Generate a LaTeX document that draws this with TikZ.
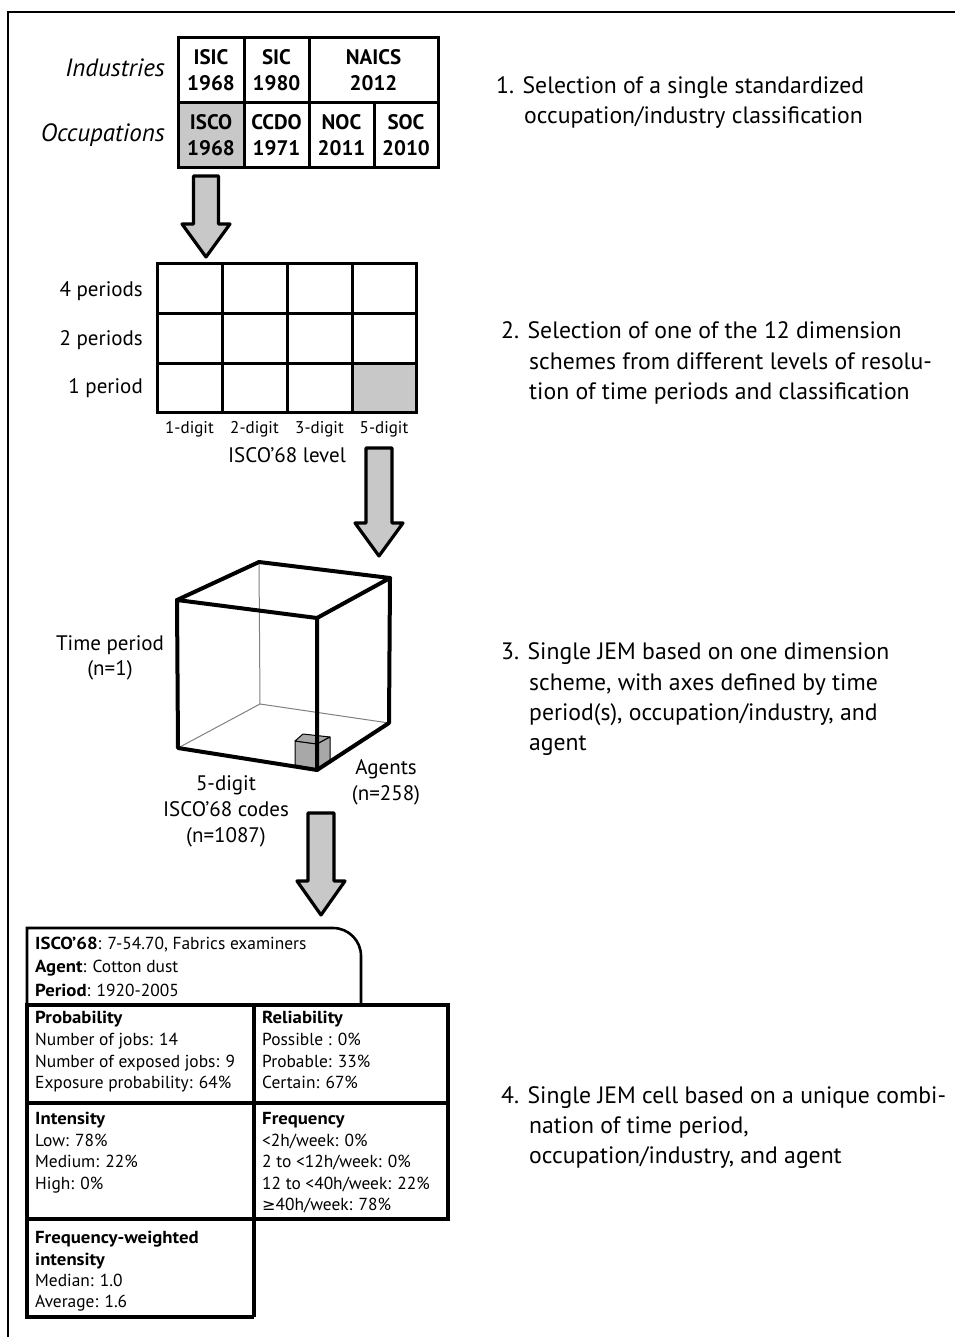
\documentclass[tikz,border=0pt]{standalone}
\usepackage{fontspec}
\setmainfont{PT Sans}
\newfontfamily\symfont{DejaVu Sans}
\newcommand\cb[1]{{\bfseries\addfontfeatures{FakeStretch=1.08}#1}}
\definecolor{lgray}{HTML}{C8C8C8}
\definecolor{mgray}{HTML}{A8A8A8}
\begin{document}
\begin{tikzpicture}[x=1pt,y=-1pt,
  frameline/.style={line width=1.8pt},
  tline/.style={line width=3pt},
  cubeline/.style={line width=4pt,line join=round,line cap=round},
  hidden/.style={line width=1pt,draw=gray},
  barrow/.style={draw=black,fill=lgray,line width=3.2pt,line join=round},
  sidelbl/.style={anchor=base east,inner sep=0,font=\fontsize{25}{29}\selectfont\itshape},
  tcell/.style={align=center,inner sep=0,font=\fontsize{21}{26}\selectfont\bfseries},
  rowlbl/.style={anchor=base east,inner sep=0,font=\fontsize{21}{25}\selectfont},
  collbl/.style={anchor=base,inner sep=0,font=\fontsize{17}{20}\selectfont},
  axlbl/.style={anchor=base,inner sep=0,font=\fontsize{21}{25}\selectfont},
  desc/.style={anchor=base west,inner sep=0,font=\fontsize{23.7}{28}\selectfont},
  cell/.style={anchor=base west,inner sep=0,font=\fontsize{17.4}{21}\selectfont}]
\useasboundingbox (0,0) rectangle (955,1337);
\draw[frameline] (8,1337) -- (8,12) -- (955,12);

% ---- classification table ----
\fill[lgray] (178,103) rectangle (244,168);
\draw[tline] (178,38) rectangle (438,168);
\draw[tline] (178,103) -- (438,103);
\draw[tline] (244,38) -- (244,168);
\draw[tline] (309,38) -- (309,168);
\draw[tline] (374,103) -- (374,168);
\node[sidelbl] (ind) at (165,77) {Industries};
\node[sidelbl] (occ) at (165,142) {Occupations};
\node[tcell] (isic) at (211,70.5) {ISIC\\1968};
\node[tcell] (sic) at (276.5,70.5) {SIC\\1980};
\node[tcell] (naics) at (373.5,70.5) {NAICS\\2012};
\node[tcell] (isco) at (211,135.5) {ISCO\\1968};
\node[tcell] (ccdo) at (276.5,135.5) {CCDO\\1971};
\node[tcell] (noc) at (341.5,135.5) {NOC\\2011};
\node[tcell] (soc) at (406,135.5) {SOC\\2010};

% ---- arrow 1 ----
\draw[barrow] (193.5,176) -- (218.5,176) -- (218.5,224) -- (230,224) -- (206,257) -- (182,224) -- (193.5,224) -- cycle;

% ---- dimension grid ----
\fill[lgray] (352,363) rectangle (416,412);
\draw[tline] (157,264) rectangle (416,412);
\draw[tline] (157,313) -- (416,313);
\draw[tline] (157,363) -- (416,363);
\draw[tline] (222,264) -- (222,412);
\draw[tline] (287,264) -- (287,412);
\draw[tline] (352,264) -- (352,412);
\node[rowlbl] (p4) at (143,297) {4 periods};
\node[rowlbl] (p2) at (143,345) {2 periods};
\node[rowlbl] (p1) at (143,393) {1 period};
\node[collbl] (d1) at (189.5,433) {1-digit};
\node[collbl] (d2) at (254.5,433) {2-digit};
\node[collbl] (d3) at (319.5,433) {3-digit};
\node[collbl] (d5) at (384,433) {5-digit};
\node[anchor=base,inner sep=0,font=\fontsize{21}{25}\selectfont] (lvl) at (287,462) {ISCO’68 level};

% ---- arrow 2 ----
\draw[barrow] (366,448) -- (392,448) -- (392,523) -- (403,523) -- (379,556) -- (355,523) -- (366,523) -- cycle;

% ---- cube ----
\coordinate (ftl) at (177,600);
\coordinate (ftr) at (317,618);
\coordinate (fbr) at (317,770);
\coordinate (fbl) at (178,748);
\coordinate (btl) at (259,562);
\coordinate (btr) at (390,578);
\coordinate (bbr) at (389,723);
\coordinate (bbl) at (260,704);
\draw[hidden] (btl) -- (bbl) -- (fbl);
\draw[hidden] (bbl) -- (bbr);
% small cell cube
\draw[fill=mgray,line width=1pt,line join=round] (295,741) -- (317,744) -- (317,769) -- (295,765) -- cycle;
\draw[fill=mgray,line width=1pt,line join=round] (295,741) -- (303,734) -- (330,737) -- (317,744) -- cycle;
\draw[fill=mgray,line width=1pt,line join=round] (317,744) -- (330,737) -- (330,763) -- (317,769) -- cycle;
\draw[cubeline] (ftl) -- (ftr) -- (fbr) -- (fbl) -- cycle;
\draw[cubeline] (ftl) -- (btl) -- (btr) -- (ftr);
\draw[cubeline] (btr) -- (bbr) -- (fbr);
\node[axlbl] (tp1) at (110,650) {Time period};
\node[axlbl] (tp2) at (110,675) {(n=1)};
\node[axlbl] (oc1) at (226,790) {5-digit};
\node[axlbl] (oc2) at (226,816) {ISCO’68 codes};
\node[axlbl] (oc3) at (226,842) {(n=1087)};
\node[axlbl] (ag1) at (386,774) {Agents};
\node[axlbl] (ag2) at (386,800) {(n=258)};

% ---- arrow 3 ----
\draw[barrow] (308,813) -- (334,813) -- (334,881) -- (345,881) -- (321,915) -- (297,881) -- (308,881) -- cycle;

% ---- JEM cell ----
\draw[line width=2.6pt] (27,1005) -- (27,928) -- (333,928) arc[start angle=-90,end angle=0,radius=28] -- (361,1005);
\draw[line width=3.5pt] (27,1005) rectangle (448,1219);
\draw[line width=3.5pt] (27,1103) -- (448,1103);
\draw[line width=3.5pt] (254,1005) -- (254,1317);
\draw[line width=3.5pt] (27,1217) -- (27,1317) -- (254,1317);

\node[cell] (h1) at (35,949) {\cb{ISCO’68}: 7-54.70, Fabrics examiners};
\node[cell] (h2) at (35,972) {\cb{Agent}: Cotton dust};
\node[cell] (h3) at (35,996) {\cb{Period}: 1920-2005};

\node[cell] (pr0) at (35,1023) {\cb{Probability}};
\node[cell] (pr1) at (35,1045) {Number of jobs: 14};
\node[cell] (pr2) at (35,1067) {Number of exposed jobs: 9};
\node[cell] (pr3) at (35,1088) {Exposure probability: 64\%};

\node[cell] (re0) at (262,1023) {\cb{Reliability}};
\node[cell] (re1) at (262,1045) {Possible : 0\%};
\node[cell] (re2) at (262,1067) {Probable: 33\%};
\node[cell] (re3) at (262,1088) {Certain: 67\%};

\node[cell] (in0) at (35,1124) {\cb{Intensity}};
\node[cell] (in1) at (35,1146) {Low: 78\%};
\node[cell] (in2) at (35,1167) {Medium: 22\%};
\node[cell] (in3) at (35,1189) {High: 0\%};

\node[cell] (fr0) at (262,1124) {\cb{Frequency}};
\node[cell] (fr1) at (262,1146) {<2h/week: 0\%};
\node[cell] (fr2) at (262,1167) {2 to <12h/week: 0\%};
\node[cell] (fr3) at (262,1189) {12 to <40h/week: 22\%};
\node[cell] (fr4) at (262,1210) {{\symfont\fontsize{16}{20}\selectfont ≥}40h/week: 78\%};

\node[cell] (fw0) at (35,1243) {\cb{Frequency-weighted}};
\node[cell] (fw1) at (35,1265) {\cb{intensity}};
\node[cell] (fw2) at (35,1286) {Median: 1.0};
\node[cell] (fw3) at (35,1307) {Average: 1.6};

% ---- step descriptions ----
\node[desc] (s1a) at (496,94) {1. Selection of a single standardized};
\node[desc] (s1b) at (524,124) {occupation/industry classification};
\node[desc] (s2a) at (501,338) {2. Selection of one of the 12 dimension};
\node[desc] (s2b) at (529,369) {schemes from different levels of resolu-};
\node[desc] (s2c) at (529,399) {tion of time periods and classification};
\node[desc] (s3a) at (501,659) {3. Single JEM based on one dimension};
\node[desc] (s3b) at (529,690) {scheme, with axes defined by time};
\node[desc] (s3c) at (529,720) {period(s), occupation/industry, and};
\node[desc] (s3d) at (529,750) {agent};
\node[desc] (s4a) at (501,1103) {4. Single JEM cell based on a unique combi-};
\node[desc] (s4b) at (529,1133) {nation of time period,};
\node[desc] (s4c) at (529,1163) {occupation/industry, and agent};
\end{tikzpicture}
\end{document}
